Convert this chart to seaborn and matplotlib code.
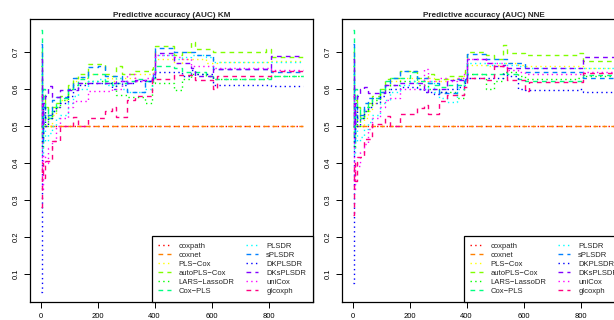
import matplotlib
matplotlib.use("Agg")
import matplotlib.pyplot as plt
import seaborn as sns

# event times (step change points) shared by both panels
times = [1, 4, 8, 15, 25, 40, 55, 70, 95, 115, 130, 165, 200, 225, 250, 265, 285,
         305, 330, 365, 390, 396, 400, 470, 495, 528, 542, 580, 605, 620, 790, 810, 920]

method_names = ['coxpath', 'coxnet', 'PLS\u2212Cox', 'autoPLS\u2212Cox', 'LARS\u2212LassoDR', 'Cox\u2212PLS',
                'PLSDR', 'sPLSDR', 'DKPLSDR', 'DKsPLSDR', 'uniCox', 'glcoxph']
method_colors = ['#FF0000', '#FF8000', '#FFFF00', '#80FF00', '#00FF00', '#00FF80',
                 '#00FFFF', '#0080FF', '#0000FF', '#8000FF', '#FF00FF', '#FF0080']
method_dashes = ['dotted', 'dashed', 'dotted', 'dashed', 'dotted', 'dashed',
                 'dotted', 'dashed', 'dotted', 'dashed', 'dotted', 'dashed']

# ---- KM panel ----
km_coxpath = [0.50, 0.50, 0.50, 0.50, 0.50, 0.50, 0.50, 0.50, 0.50, 0.50, 0.50, 0.50, 0.50, 0.50, 0.50, 0.50, 0.50,
              0.50, 0.50, 0.50, 0.50, 0.50, 0.50, 0.50, 0.50, 0.50, 0.50, 0.50, 0.50, 0.50, 0.50, 0.50, 0.50]
km_coxnet = [0.50, 0.50, 0.50, 0.50, 0.50, 0.50, 0.50, 0.50, 0.50, 0.50, 0.50, 0.50, 0.50, 0.50, 0.50, 0.50, 0.50,
             0.50, 0.50, 0.50, 0.50, 0.50, 0.50, 0.50, 0.50, 0.50, 0.50, 0.50, 0.50, 0.50, 0.50, 0.50, 0.50]
km_plscox = [0.62, 0.45, 0.55, 0.52, 0.50, 0.53, 0.55, 0.57, 0.60, 0.62, 0.63, 0.64, 0.64, 0.63, 0.62, 0.63, 0.63,
             0.63, 0.64, 0.64, 0.64, 0.66, 0.68, 0.67, 0.68, 0.68, 0.68, 0.67, 0.67, 0.673, 0.673, 0.675, 0.675]
km_autoplscox = [0.70, 0.47, 0.58, 0.55, 0.52, 0.55, 0.56, 0.58, 0.61, 0.63, 0.64, 0.667, 0.667, 0.64, 0.635, 0.66, 0.64,
                 0.64, 0.648, 0.648, 0.652, 0.665, 0.714, 0.69, 0.70, 0.727, 0.706, 0.706, 0.698, 0.698, 0.706, 0.686, 0.686]
km_lars = [0.66, 0.44, 0.53, 0.50, 0.52, 0.54, 0.55, 0.57, 0.60, 0.61, 0.615, 0.62, 0.62, 0.615, 0.615, 0.582, 0.582,
           0.577, 0.577, 0.56, 0.617, 0.635, 0.616, 0.596, 0.625, 0.64, 0.64, 0.635, 0.625, 0.625, 0.63, 0.635, 0.635]
km_coxpls = [0.758, 0.50, 0.60, 0.55, 0.52, 0.54, 0.56, 0.575, 0.60, 0.61, 0.625, 0.64, 0.64, 0.62, 0.61, 0.615, 0.615,
             0.62, 0.625, 0.62, 0.625, 0.63, 0.66, 0.655, 0.645, 0.645, 0.645, 0.635, 0.626, 0.626, 0.626, 0.634, 0.634]
km_plsdr = [0.64, 0.42, 0.50, 0.46, 0.48, 0.50, 0.52, 0.53, 0.56, 0.58, 0.60, 0.62, 0.625, 0.61, 0.61, 0.63, 0.60,
            0.59, 0.59, 0.60, 0.63, 0.64, 0.69, 0.68, 0.685, 0.69, 0.69, 0.685, 0.673, 0.673, 0.673, 0.672, 0.672]
km_splsdr = [0.72, 0.46, 0.55, 0.52, 0.53, 0.57, 0.578, 0.578, 0.60, 0.63, 0.632, 0.658, 0.66, 0.635, 0.635, 0.635, 0.62,
             0.592, 0.592, 0.62, 0.63, 0.64, 0.711, 0.70, 0.70, 0.70, 0.69, 0.69, 0.654, 0.654, 0.654, 0.646, 0.646]
km_dkplsdr = [0.052, 0.47, 0.55, 0.50, 0.52, 0.54, 0.55, 0.56, 0.58, 0.60, 0.61, 0.615, 0.615, 0.615, 0.60, 0.615, 0.61,
              0.615, 0.62, 0.62, 0.63, 0.632, 0.646, 0.646, 0.635, 0.65, 0.64, 0.64, 0.611, 0.611, 0.611, 0.606, 0.606]
km_dksplsdr = [0.68, 0.50, 0.56, 0.58, 0.606, 0.577, 0.577, 0.597, 0.597, 0.597, 0.616, 0.616, 0.616, 0.616, 0.616, 0.62, 0.62,
               0.616, 0.624, 0.624, 0.624, 0.63, 0.695, 0.67, 0.67, 0.655, 0.635, 0.635, 0.654, 0.654, 0.654, 0.688, 0.688]
km_unicox = [0.58, 0.33, 0.42, 0.40, 0.44, 0.46, 0.50, 0.52, 0.55, 0.568, 0.568, 0.595, 0.595, 0.595, 0.60, 0.60, 0.62,
             0.64, 0.62, 0.63, 0.64, 0.645, 0.69, 0.685, 0.68, 0.66, 0.66, 0.66, 0.655, 0.655, 0.655, 0.65, 0.65]
km_glcoxph = [0.28, 0.40, 0.36, 0.405, 0.405, 0.46, 0.46, 0.50, 0.50, 0.523, 0.498, 0.52, 0.52, 0.539, 0.55, 0.523, 0.523,
              0.569, 0.58, 0.58, 0.625, 0.625, 0.625, 0.637, 0.637, 0.637, 0.623, 0.623, 0.598, 0.634, 0.634, 0.648, 0.648]

# ---- NNE panel ----
nne_coxpath = [0.50, 0.50, 0.50, 0.50, 0.50, 0.50, 0.50, 0.50, 0.50, 0.50, 0.50, 0.50, 0.50, 0.50, 0.50, 0.50, 0.50,
               0.50, 0.50, 0.50, 0.50, 0.50, 0.50, 0.50, 0.50, 0.50, 0.50, 0.50, 0.50, 0.50, 0.50, 0.50, 0.50]
nne_coxnet = [0.50, 0.50, 0.50, 0.50, 0.50, 0.50, 0.50, 0.50, 0.50, 0.50, 0.50, 0.50, 0.50, 0.50, 0.50, 0.50, 0.50,
              0.50, 0.50, 0.50, 0.50, 0.50, 0.50, 0.50, 0.50, 0.50, 0.50, 0.50, 0.50, 0.50, 0.50, 0.50, 0.50]
nne_plscox = [0.60, 0.44, 0.54, 0.50, 0.50, 0.52, 0.54, 0.56, 0.59, 0.61, 0.62, 0.63, 0.63, 0.62, 0.62, 0.63, 0.62,
              0.62, 0.625, 0.63, 0.64, 0.65, 0.665, 0.66, 0.665, 0.67, 0.67, 0.665, 0.66, 0.66, 0.66, 0.655, 0.655]
nne_autoplscox = [0.70, 0.47, 0.57, 0.55, 0.52, 0.54, 0.56, 0.58, 0.60, 0.625, 0.63, 0.648, 0.648, 0.63, 0.63, 0.64, 0.625,
                  0.625, 0.635, 0.635, 0.64, 0.65, 0.70, 0.69, 0.68, 0.717, 0.695, 0.695, 0.69, 0.69, 0.697, 0.675, 0.675]
nne_lars = [0.66, 0.44, 0.53, 0.50, 0.52, 0.54, 0.55, 0.57, 0.59, 0.60, 0.61, 0.62, 0.62, 0.61, 0.61, 0.60, 0.60,
            0.59, 0.59, 0.575, 0.61, 0.625, 0.64, 0.60, 0.62, 0.645, 0.645, 0.635, 0.625, 0.625, 0.63, 0.635, 0.635]
nne_coxpls = [0.758, 0.50, 0.60, 0.55, 0.52, 0.55, 0.56, 0.575, 0.60, 0.62, 0.63, 0.63, 0.645, 0.62, 0.62, 0.615, 0.61,
              0.605, 0.61, 0.61, 0.62, 0.625, 0.64, 0.64, 0.64, 0.645, 0.64, 0.625, 0.62, 0.62, 0.62, 0.637, 0.637]
nne_plsdr = [0.64, 0.42, 0.50, 0.46, 0.47, 0.49, 0.51, 0.53, 0.56, 0.57, 0.59, 0.61, 0.62, 0.60, 0.60, 0.62, 0.59,
             0.575, 0.565, 0.60, 0.62, 0.63, 0.668, 0.665, 0.67, 0.67, 0.665, 0.66, 0.655, 0.655, 0.655, 0.655, 0.655]
nne_splsdr = [0.72, 0.46, 0.55, 0.52, 0.53, 0.56, 0.575, 0.575, 0.59, 0.61, 0.63, 0.647, 0.647, 0.63, 0.63, 0.615, 0.614,
              0.588, 0.588, 0.625, 0.62, 0.625, 0.693, 0.68, 0.68, 0.68, 0.67, 0.67, 0.646, 0.646, 0.646, 0.63, 0.63]
nne_dkplsdr = [0.075, 0.47, 0.55, 0.50, 0.52, 0.54, 0.55, 0.56, 0.58, 0.59, 0.60, 0.605, 0.605, 0.60, 0.59, 0.59, 0.585,
               0.59, 0.60, 0.605, 0.615, 0.62, 0.63, 0.63, 0.63, 0.64, 0.635, 0.60, 0.596, 0.596, 0.60, 0.592, 0.592]
nne_dksplsdr = [0.68, 0.50, 0.56, 0.58, 0.60, 0.605, 0.588, 0.588, 0.588, 0.61, 0.61, 0.614, 0.614, 0.614, 0.59, 0.60, 0.60,
                0.60, 0.623, 0.623, 0.623, 0.63, 0.68, 0.67, 0.66, 0.665, 0.655, 0.655, 0.655, 0.655, 0.655, 0.685, 0.685]
nne_unicox = [0.58, 0.33, 0.40, 0.39, 0.43, 0.45, 0.49, 0.52, 0.55, 0.57, 0.575, 0.60, 0.60, 0.60, 0.652, 0.62, 0.62,
              0.63, 0.62, 0.63, 0.64, 0.64, 0.68, 0.67, 0.67, 0.66, 0.65, 0.645, 0.64, 0.64, 0.64, 0.645, 0.645]
nne_glcoxph = [0.26, 0.40, 0.35, 0.415, 0.415, 0.465, 0.465, 0.505, 0.505, 0.527, 0.50, 0.532, 0.532, 0.549, 0.555, 0.532, 0.532,
               0.568, 0.582, 0.582, 0.605, 0.605, 0.628, 0.623, 0.66, 0.66, 0.623, 0.623, 0.595, 0.618, 0.618, 0.642, 0.642]

km_series = [km_coxpath, km_coxnet, km_plscox, km_autoplscox, km_lars, km_coxpls,
             km_plsdr, km_splsdr, km_dkplsdr, km_dksplsdr, km_unicox, km_glcoxph]
nne_series = [nne_coxpath, nne_coxnet, nne_plscox, nne_autoplscox, nne_lars, nne_coxpls,
              nne_plsdr, nne_splsdr, nne_dkplsdr, nne_dksplsdr, nne_unicox, nne_glcoxph]

sns.set_theme(style="ticks")
plt.rcParams['font.family'] = ['Liberation Sans', 'DejaVu Sans']

dash_map = {'dotted': (0, (1.0, 2.4)), 'dashed': (0, (3.4, 3.0))}

fig = plt.figure(figsize=(6.14, 3.2), dpi=100)
ax1 = fig.add_axes([30 / 614, 18 / 320, 283 / 614, 283 / 320])
ax2 = fig.add_axes([342 / 614, 18 / 320, 283 / 614, 283 / 320])


def draw_panel(ax, series, title):
    for name, vals, col, ls in zip(method_names, series, method_colors, method_dashes):
        sns.lineplot(x=times, y=vals, ax=ax, color=col, linestyle=dash_map[ls],
                     drawstyle='steps-post', linewidth=1.0, label=name, legend=False)
    ax.set_xlim(-37, 956)
    ax.set_ylim(0.0243, 0.788)
    ax.set_xticks([0, 200, 400, 600, 800])
    ax.set_yticks([0.1, 0.2, 0.3, 0.4, 0.5, 0.6, 0.7])
    ax.set_yticklabels(['0.1', '0.2', '0.3', '0.4', '0.5', '0.6', '0.7'],
                       rotation=90, va='center')
    ax.tick_params(axis='both', length=4, width=0.7, labelsize=5.5, colors='black')
    ax.tick_params(axis='x', pad=4)
    ax.tick_params(axis='y', pad=3.5)
    for s in ax.spines.values():
        s.set_visible(True)
        s.set_color('black')
        s.set_linewidth(0.9)
    ax.set_xlabel('')
    ax.set_ylabel('')
    ax.set_title(title, fontsize=5.9, fontweight='bold', pad=1.5)
    leg = ax.legend(loc='lower right', bbox_to_anchor=(1, 0), borderaxespad=0, ncol=2,
                    fontsize=5.5, handlelength=1.6, handletextpad=1.05, columnspacing=1.5,
                    labelspacing=0.22, borderpad=0.9, frameon=True, fancybox=False,
                    edgecolor='black', framealpha=1)
    leg.get_frame().set_linewidth(0.9)
    leg.set_zorder(10)


draw_panel(ax1, km_series, 'Predictive accuracy (AUC) KM')
draw_panel(ax2, nne_series, 'Predictive accuracy (AUC) NNE')

fig.savefig('out.png', dpi=100)
